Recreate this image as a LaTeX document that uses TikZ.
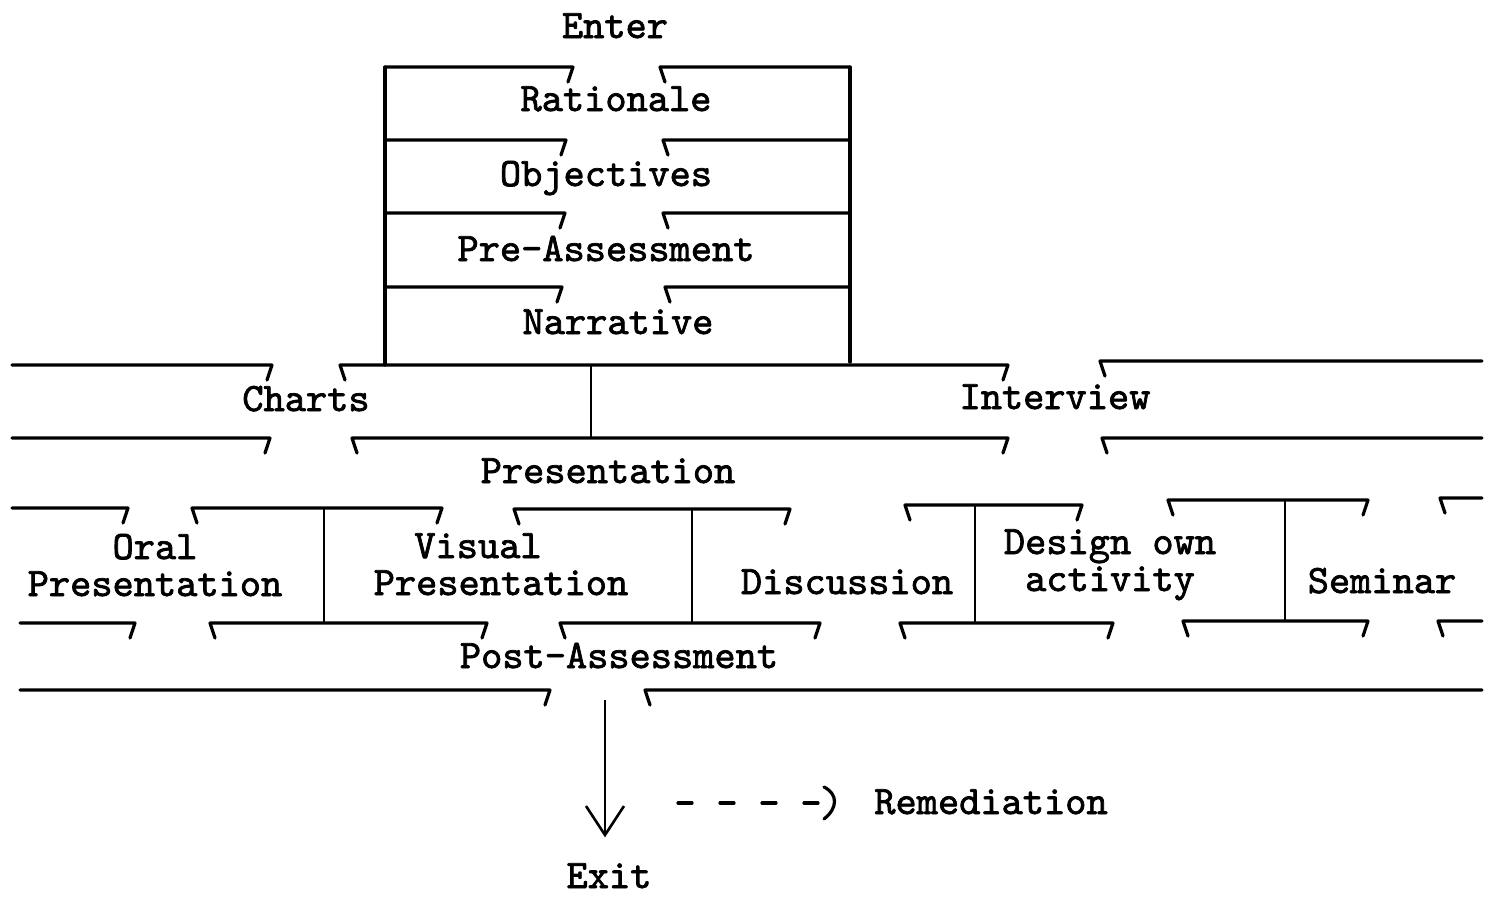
\documentclass[tikz,border=0pt]{standalone}
\usepackage{fontspec}
\newfontfamily\tw{lmmono10-regular.otf}[FakeBold=1.8]
\tikzset{
  lbl/.style={font=\tw\fontsize{20.2}{21}\selectfont, inner sep=0pt, anchor=base},
  rule/.style={line width=1.6pt, line cap=round, line join=round},
  vrule/.style={line width=1.3pt},
}
\newcommand\segE[3]{\draw[rule] (#2,#1) -- (#3,#1) -- ++(-5,15);}
\newcommand\segS[3]{\draw[rule] (#2+5,#1+15) -- (#2,#1) -- (#3,#1);}
\newcommand\segT[3]{\draw[rule] (#2+5,#1+15) -- (#2,#1) -- (#3,#1) -- ++(-5,15);}
\begin{document}
\begin{tikzpicture}[x=0.5pt,y=-0.5pt]
\useasboundingbox (0,0) rectangle (1494,896);
% labels
\node[lbl] (enter) at (615,38) {Enter};
\node[lbl] (rat) at (616,111) {Rationale};
\node[lbl] (obj) at (606,186) {Objectives};
\node[lbl] (pre) at (606,261) {Pre-Assessment};
\node[lbl] (nar) at (618,334) {Narrative};
\node[lbl] (charts) at (306,411) {Charts};
\node[lbl] (interview) at (1055,409) {Interview};
\node[lbl] (pres) at (608,483) {Presentation};
\node[lbl] (oralA) at (155,559) {Oral};
\node[lbl] (oralB) at (155,596) {Presentation};
\node[lbl] (visA) at (478,558) {Visual};
\node[lbl] (visB) at (501,595) {Presentation};
\node[lbl] (disc) at (847,594) {Discussion};
\node[lbl] (desA) at (1110,554) {Design own};
\node[lbl] (desB) at (1110,591) {activity};
\node[lbl] (sem) at (1382,593) {Seminar};
\node[lbl] (post) at (619,668) {Post-Assessment};
\node[lbl] (rem) at (991,814) {Remediation};
\node[lbl] (exit) at (609,888) {Exit};
% top box
\draw[rule] (385,67) -- (385,365);
\draw[rule] (850,67) -- (850,362);
\segE{67}{385}{573}  \segS{67}{660}{850}
\segE{140}{385}{566} \segS{140}{663}{850}
\segE{213}{385}{565} \segS{213}{663}{848}
\segE{287}{385}{562} \segS{287}{665}{850}
% row 2
\segE{365}{12}{272} \segT{365}{340}{1008} \segS{361}{1100}{1482}
\draw[vrule] (591,365) -- (591,438);
\segE{438}{12}{270} \segT{438}{352}{1008} \segS{438}{1102}{1482}
% row 3 top
\segE{508}{12}{128}
\segT{508}{192}{442}
\segT{509}{514}{790}
\segT{505}{905}{1082}
\segT{500}{1168}{1368}
\segS{498}{1440}{1482}
\draw[vrule] (324,508) -- (324,623);
\draw[vrule] (692,509) -- (692,623);
\draw[vrule] (975,505) -- (975,623);
\draw[vrule] (1285,500) -- (1285,621);
% row 3 bottom
\segE{623}{20}{135}
\segT{623}{210}{487}
\segT{623}{560}{820}
\segT{623}{900}{1113}
\segT{621}{1183}{1368}
\segS{621}{1438}{1482}
% row 4
\segE{690}{20}{550}
\segS{690}{645}{1482}
% exit arrow
\draw[vrule] (605,700) -- (605,835);
\draw[vrule, line join=miter] (586,806) -- (605,835) -- (624,806);
% remediation
\draw[rule, dash pattern=on 7pt off 14pt] (678,803) -- (822,803);
\draw[rule] (824,787) .. controls (838,794) and (838,808) .. (824,819);
\end{tikzpicture}
\end{document}
